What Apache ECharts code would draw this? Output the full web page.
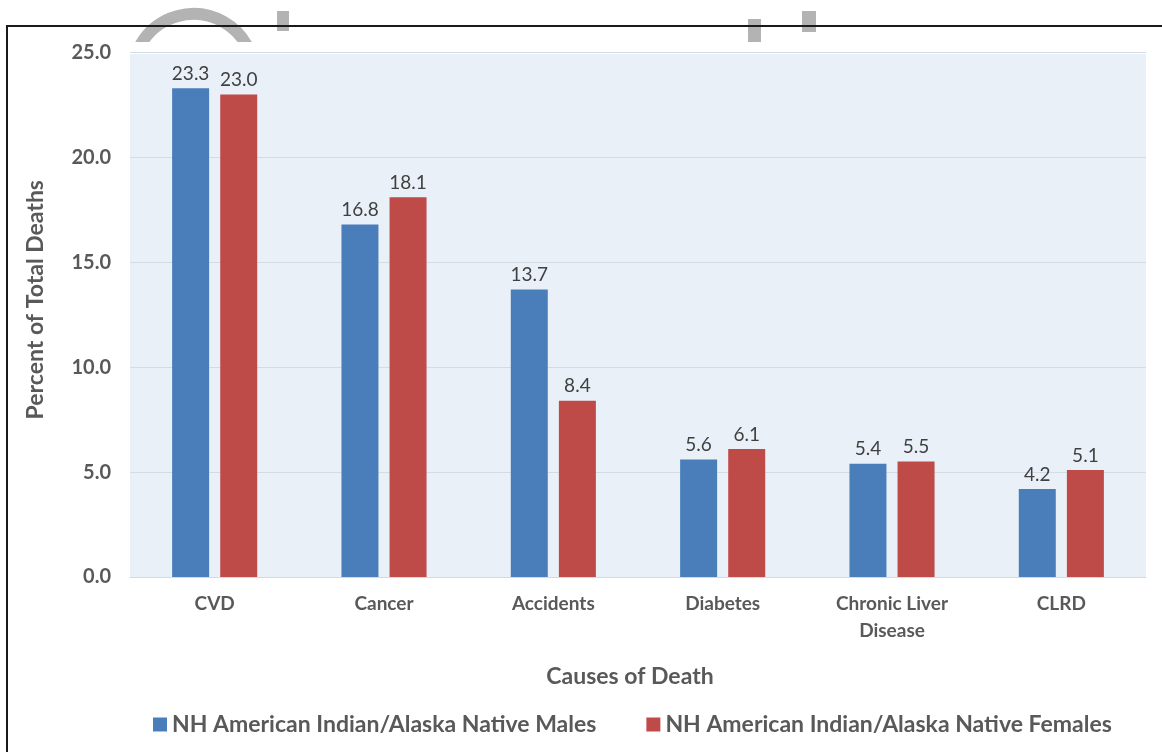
<!DOCTYPE html>
<html>
<head>
<meta charset="utf-8">
<script src="https://cdn.jsdelivr.net/npm/echarts@6/dist/echarts.min.js"></script>
<style>html,body{margin:0;padding:0;background:#fff}#c{width:1162px;height:752px}</style>
</head>
<body>
<div id="c"></div>
<script>
const categories = ['CVD', 'Cancer', 'Accidents', 'Diabetes', 'Chronic Liver\nDisease', 'CLRD'];
const malesName = 'NH American Indian/Alaska Native Males';
const femalesName = 'NH American Indian/Alaska Native Females';
const males = [23.3, 16.8, 13.7, 5.6, 5.4, 4.2];
const females = [23.0, 18.1, 8.4, 6.1, 5.5, 5.1];
const yTicks = [0, 5, 10, 15, 20, 25];

const FONT = 'Lato, "Open Sans", sans-serif';
const chart = echarts.init(document.getElementById('c'), null, {renderer: 'canvas'});
const labelStyle = {show: true, position: 'top', distance: 5, fontFamily: FONT, fontSize: 19, color: '#404040', formatter: p => p.value.toFixed(1)};
chart.setOption({
  animation: false,
  backgroundColor: '#ffffff',
  graphic: [
    {type: 'arc', z: 0, shape: {cx: 193.5, cy: 75, r: 61, startAngle: -2.63, endAngle: -0.51}, style: {stroke: '#b3b3b3', lineWidth: 12, fill: null}},
    {type: 'rect', z: 0, shape: {x: 277, y: 11, width: 12, height: 20}, style: {fill: '#b3b3b3'}},
    {type: 'rect', z: 0, shape: {x: 748, y: 19, width: 13, height: 24}, style: {fill: '#b3b3b3'}},
    {type: 'rect', z: 0, shape: {x: 802, y: 11, width: 14, height: 21}, style: {fill: '#b3b3b3'}},
    {type: 'rect', z: 0, shape: {x: 0, y: 42, width: 1162, height: 12}, style: {fill: '#ffffff'}},
    {type: 'polyline', z: 100, shape: {points: [[7, 760], [7, 26], [1170, 26]]}, style: {stroke: '#1a1a1a', lineWidth: 2, fill: null}}
  ],
  grid: {left: 130, right: 16, top: 52.5, bottom: 175, show: true, backgroundColor: '#eaf0f8', borderWidth: 0},
  legend: {
    top: 708, left: 148, itemWidth: 14, itemHeight: 14, itemGap: 50, icon: 'rect',
    textStyle: {fontFamily: FONT, fontSize: 23, fontWeight: 'bold', color: '#595959'},
    data: [malesName, femalesName]
  },
  xAxis: {
    type: 'category', data: categories,
    name: 'Causes of Death', nameLocation: 'middle', nameGap: 88,
    nameTextStyle: {fontFamily: FONT, fontSize: 23, fontWeight: 'bold', color: '#595959', padding: [0, 16, 0, 0]},
    axisLine: {show: true, lineStyle: {color: '#d9d9d9'}}, axisTick: {show: false},
    axisLabel: {fontFamily: FONT, fontSize: 19, fontWeight: 'bold', color: '#595959', margin: 13, lineHeight: 27}
  },
  yAxis: {
    type: 'value', min: yTicks[0], max: yTicks[yTicks.length - 1], interval: 5,
    name: 'Percent of Total Deaths', nameLocation: 'middle', nameGap: 83,
    nameTextStyle: {fontFamily: FONT, fontSize: 23, fontWeight: 'bold', color: '#595959', padding: [0, 0, 0, 30]},
    axisLine: {show: false}, axisTick: {show: false},
    splitLine: {lineStyle: {color: '#d5dbe3', width: 1}},
    axisLabel: {fontFamily: FONT, fontSize: 20, fontWeight: 'bold', color: '#595959', margin: 19, formatter: v => v.toFixed(1)}
  },
  series: [
    {name: malesName, type: 'bar', data: males, barWidth: 37, barGap: '30%', itemStyle: {color: '#4a7ebb'}, label: labelStyle},
    {name: femalesName, type: 'bar', data: females, barWidth: 37, itemStyle: {color: '#be4b48'}, label: labelStyle}
  ]
});
</script>
</body>
</html>
